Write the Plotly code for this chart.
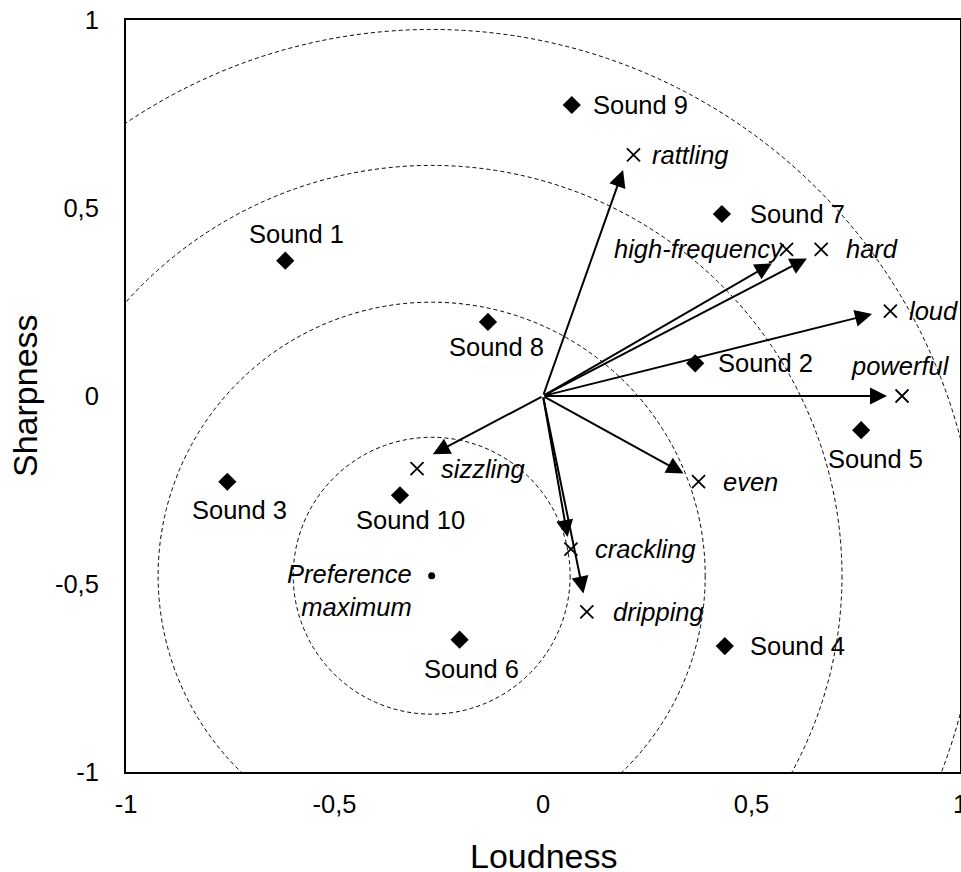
import plotly.graph_objects as go

# --- Sounds (product scores) ---
sound_names = ["Sound 1", "Sound 2", "Sound 3", "Sound 4", "Sound 5",
               "Sound 6", "Sound 7", "Sound 8", "Sound 9", "Sound 10"]
sound_x = [-0.618, 0.365, -0.757, 0.436, 0.763, -0.200, 0.429, -0.132, 0.069, -0.343]
sound_y = [0.360, 0.087, -0.228, -0.665, -0.091, -0.648, 0.484, 0.197, 0.774, -0.264]

# --- Attributes (descriptor positions) ---
attr_names = ["rattling", "high-frequency", "hard", "loud", "powerful",
              "even", "crackling", "dripping", "sizzling"]
attr_x = [0.217, 0.584, 0.667, 0.833, 0.861, 0.373, 0.067, 0.105, -0.302]
attr_y = [0.641, 0.390, 0.390, 0.226, 0.000, -0.228, -0.407, -0.574, -0.193]

# --- Attribute vectors (arrow tips, drawn from the origin) ---
vec_x = [0.192, 0.549, 0.633, 0.789, 0.825, 0.337, 0.059, 0.097, -0.264]
vec_y = [0.601, 0.353, 0.366, 0.218, 0.000, -0.206, -0.375, -0.525, -0.155]

# --- Ideal point and iso-preference contours (radius in Loudness units) ---
pref_x = -0.267
pref_y = -0.478
ring_radii = [0.332, 0.656, 0.984, 1.310]

# --- Axes ---
tick_vals = [-1, -0.5, 0, 0.5, 1]
tick_text = ["-1", "-0,5", "0", "0,5", "1"]

# layout geometry
W, H = 961, 872
M_L, M_R, M_T, M_B = 126, 1, 20, 100
plot_w = W - M_L - M_R
plot_h = H - M_T - M_B
aspect = (plot_w / 2.0) / (plot_h / 2.0)  # px per x-unit / px per y-unit

FONT = "Liberation Sans, Arial, sans-serif"
FS = 25.5

# label placement styles: (xanchor, xshift, yshift)
sound_label_style = {
    "Sound 1": ("center", 11, 27),
    "Sound 2": ("left", 21, 0),
    "Sound 3": ("center", 12, -28),
    "Sound 4": ("left", 23, 0),
    "Sound 5": ("center", 14, -29),
    "Sound 6": ("center", 12, -29),
    "Sound 7": ("left", 26, 0),
    "Sound 8": ("center", 9, -25),
    "Sound 9": ("left", 19, 0),
    "Sound 10": ("center", 11, -25),
}
attr_label_style = {
    "rattling": ("left", 17, 0),
    "high-frequency": ("right", 0, 0),
    "hard": ("left", 23, 0),
    "loud": ("left", 17, 0),
    "powerful": ("center", -2, 30),
    "even": ("left", 22, 0),
    "crackling": ("left", 22, 0),
    "dripping": ("left", 24, 0),
    "sizzling": ("left", 22, 0),
}

fig = go.Figure()

# iso-preference circles
shapes = []
for r in ring_radii:
    ry = r * aspect
    shapes.append(dict(
        type="circle", xref="x", yref="y",
        x0=pref_x - r, x1=pref_x + r, y0=pref_y - ry, y1=pref_y + ry,
        line=dict(color="black", width=1, dash="4px,3px"),
        layer="below",
    ))

fig.add_trace(go.Scatter(
    x=sound_x, y=sound_y, mode="markers", name="Sounds",
    marker=dict(symbol="diamond", size=14, color="black"),
    hoverinfo="text", text=sound_names,
))
fig.add_trace(go.Scatter(
    x=attr_x, y=attr_y, mode="markers", name="Attributes",
    marker=dict(symbol="x-thin", size=13, color="black",
                line=dict(width=1.8, color="black")),
    hoverinfo="text", text=attr_names,
))
fig.add_trace(go.Scatter(
    x=[pref_x], y=[pref_y], mode="markers", name="Preference maximum",
    marker=dict(symbol="circle", size=7, color="black"),
    hoverinfo="skip",
))

annotations = []

# vectors from origin
for vx, vy in zip(vec_x, vec_y):
    annotations.append(dict(
        x=vx, y=vy, xref="x", yref="y",
        ax=0, ay=0, axref="x", ayref="y",
        text="", showarrow=True,
        arrowhead=2, arrowsize=1.7, arrowwidth=2, arrowcolor="black",
        standoff=0, startstandoff=0,
    ))

# sound labels
for name, sx, sy in zip(sound_names, sound_x, sound_y):
    xa, dx, dy = sound_label_style[name]
    annotations.append(dict(
        x=sx, y=sy, xref="x", yref="y", text=name, showarrow=False,
        xanchor=xa, yanchor="middle", xshift=dx, yshift=dy,
        font=dict(family=FONT, size=FS, color="black"),
    ))

# attribute labels (italic)
for name, axv, ayv in zip(attr_names, attr_x, attr_y):
    xa, dx, dy = attr_label_style[name]
    annotations.append(dict(
        x=axv, y=ayv, xref="x", yref="y", text="<i>%s</i>" % name,
        showarrow=False,
        xanchor=xa, yanchor="middle", xshift=dx, yshift=dy,
        font=dict(family=FONT, size=FS, color="black"),
    ))

# ideal point label
annotations.append(dict(
    x=pref_x, y=pref_y, xref="x", yref="y",
    text="<i>Preference</i><br><i>maximum</i>", showarrow=False,
    xanchor="right", yanchor="middle", align="right",
    xshift=-18, yshift=-15,
    font=dict(family=FONT, size=FS, color="black"),
))

# axis titles
annotations.append(dict(
    x=0.5, y=0, xref="paper", yref="paper", text="Loudness",
    showarrow=False, xanchor="center", yanchor="middle", yshift=-84,
    font=dict(family=FONT, size=34, color="black"),
))
annotations.append(dict(
    x=0, y=0.5, xref="paper", yref="paper", text="Sharpness",
    showarrow=False, xanchor="center", yanchor="middle", xshift=-101,
    textangle=-90,
    font=dict(family=FONT, size=34, color="black"),
))

axis_common = dict(
    range=[-1, 1], tickvals=tick_vals, ticktext=tick_text,
    showgrid=False, zeroline=False,
    showline=True, linecolor="black", linewidth=2, mirror=True,
    ticks="", tickfont=dict(family=FONT, size=FS, color="black"),
    ticklabeloverflow="allow", automargin=False,
    fixedrange=True,
)

fig.update_layout(
    width=W, height=H,
    margin=dict(l=M_L, r=M_R, t=M_T, b=M_B, pad=0, autoexpand=False),
    paper_bgcolor="white", plot_bgcolor="white",
    showlegend=False,
    shapes=shapes,
    annotations=annotations,
    xaxis=dict(**axis_common, ticklabelstandoff=8),
    yaxis=dict(**axis_common, ticklabelstandoff=20),
    font=dict(family=FONT, color="black"),
)

fig.write_html("out.html")
